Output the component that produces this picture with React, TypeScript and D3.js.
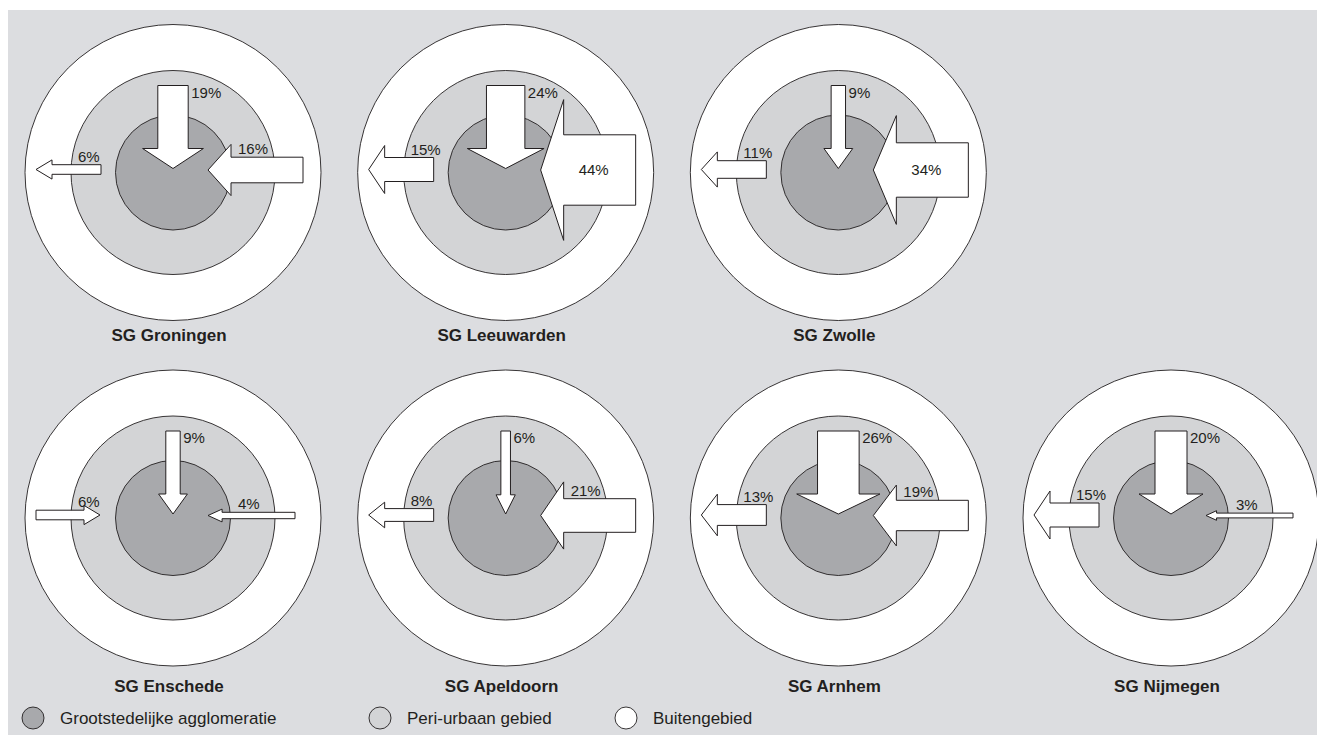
import React from "react";
import * as d3 from "d3";

// ---- data ----
const regions = ["SG Groningen", "SG Leeuwarden", "SG Zwolle", "SG Enschede", "SG Apeldoorn", "SG Arnhem", "SG Nijmegen"];
const gridRow = [0, 0, 0, 1, 1, 1, 1];
const gridCol = [0, 1, 2, 0, 1, 2, 3];
// flow from the top (peri-urban -> agglomeration), percent
const topFlow = [19, 24, 9, 9, 6, 26, 20];
// flow on the left side (buitengebied <-> peri-urbaan), percent
const leftFlow = [6, 15, 11, 6, 8, 13, 15];
const leftDirection = ["out", "out", "out", "in", "out", "out", "out"];
// flow on the right side (buitengebied -> agglomeration), percent
const rightFlow = [16, 44, 34, 4, 21, 19, 3];
const legendLabels = ["Grootstedelijke agglomeratie", "Peri-urbaan gebied", "Buitengebied"];

const W = 1317;
const H = 735;
const FONT = "'Liberation Sans', Arial, Helvetica, sans-serif";
const BG = "#dcdde0";
const MID = "#d3d4d6";
const INNER = "#a8a9ac";
const INK = "#231f20";
const ringFills = [INNER, MID, "#ffffff"];

const colX = d3.scaleLinear().domain([0, 3]).range([173, 1171]);
const rowY = d3.scaleLinear().domain([0, 1]).range([172.5, 518]);
const widthScale = d3.scaleLinear().domain([0, 100]).range([0, 160]);
const R_OUT = 148, R_MID = 102, R_IN = 57.5;

function hArrow(x1: number, x2: number, yc: number, w: number, L: number) {
  const d = Math.sign(x2 - x1);
  const h = w / 2, Hh = w;
  const xb = x2 - d * L;
  const p = d3.path();
  p.moveTo(x1, yc - h);
  p.lineTo(xb, yc - h);
  p.lineTo(xb, yc - Hh);
  p.lineTo(x2, yc);
  p.lineTo(xb, yc + Hh);
  p.lineTo(xb, yc + h);
  p.lineTo(x1, yc + h);
  p.closePath();
  return p.toString();
}
function vArrow(xc: number, y1: number, y2: number, w: number, L: number) {
  const h = w / 2, Hh = w;
  const yb = y2 - L;
  const p = d3.path();
  p.moveTo(xc - h, y1);
  p.lineTo(xc - h, yb);
  p.lineTo(xc - Hh, yb);
  p.lineTo(xc, y2);
  p.lineTo(xc + Hh, yb);
  p.lineTo(xc + h, yb);
  p.lineTo(xc + h, y1);
  p.closePath();
  return p.toString();
}

function Panel({ i }: { i: number }) {
  const cx = colX(gridCol[i]);
  const cy = rowY(gridRow[i]);
  const radii = [R_OUT, R_MID, R_IN];
  const wt = widthScale(topFlow[i]);
  const topY = cy - 87;
  const tipY = cy - 4;
  const Lt = Math.min(20, wt * 2);
  const wl = widthScale(leftFlow[i]);
  const yl = cy - 3;
  const Ll = Math.min(16, wl * 2.2);
  const leftOut = leftDirection[i] === "out";
  const lx1 = leftOut ? cx - 72 : cx - 137;
  const lx2 = leftOut ? cx - 137 : cx - 73;
  const wr = widthScale(rightFlow[i]);
  const yr = cy - 2.5;
  const Lr = Math.min(23, wr * 2.2);
  const rx1 = cx + (wr > 12 ? 130 : 122);
  const rx2 = cx + 35;
  const rightInside = wr > 40;
  return (
    <g>
      {[0, 1, 2].map((k) => (
        <circle key={k} cx={cx} cy={cy} r={radii[k]} fill={ringFills[2 - k]} stroke={INK} strokeWidth={0.9} />
      ))}
      <path d={vArrow(cx, topY, tipY, wt, Lt)} fill="#fff" stroke={INK} strokeWidth={1} />
      <path d={hArrow(lx1, lx2, yl, wl, Ll)} fill="#fff" stroke={INK} strokeWidth={1} />
      <path d={hArrow(rx1, rx2, yr, wr, Lr)} fill="#fff" stroke={INK} strokeWidth={1} />
      <g fontFamily={FONT} fontSize={15} fill={INK}>
        <text x={cx + wt / 2 + 3} y={topY + 12}>{topFlow[i]}%</text>
        <text x={cx - 95} y={yl - wl / 2 - 3}>{leftFlow[i]}%</text>
        {rightInside ? (
          <text x={(rx2 + Lr + rx1) / 2 - 6} y={yr + 5} textAnchor="middle">{rightFlow[i]}%</text>
        ) : (
          <text x={cx + 65} y={yr - wr / 2 - 3}>{rightFlow[i]}%</text>
        )}
      </g>
      <text x={cx - 4} y={cy + (gridRow[i] === 0 ? 168.5 : 174)} textAnchor="middle" fontFamily={FONT} fontSize={17} fontWeight="bold" fill={INK}>
        {regions[i]}
      </text>
    </g>
  );
}

// legend item positions (tab stops as in the original layout)
const legendX = d3.scaleOrdinal<string, number>().domain(legendLabels).range([33, 380, 626]);

export default function App() {
  return (
    <svg width={W} height={H} style={{ position: "absolute", left: 0, top: 0, display: "block" }}>
      <rect x={0} y={0} width={W} height={H} fill="#ffffff" />
      <rect x={8} y={10} width={W - 8} height={H - 10} fill={BG} />
      {regions.map((_, i) => (
        <Panel key={i} i={i} />
      ))}
      <g>
        {legendLabels.map((lab, k) => {
          const x = legendX(lab);
          return (
            <g key={lab}>
              <circle cx={x} cy={718} r={11} fill={ringFills[k]} stroke={INK} strokeWidth={0.9} />
              <text x={x + 27} y={724} fontFamily={FONT} fontSize={17} fill={INK}>{lab}</text>
            </g>
          );
        })}
      </g>
    </svg>
  );
}
